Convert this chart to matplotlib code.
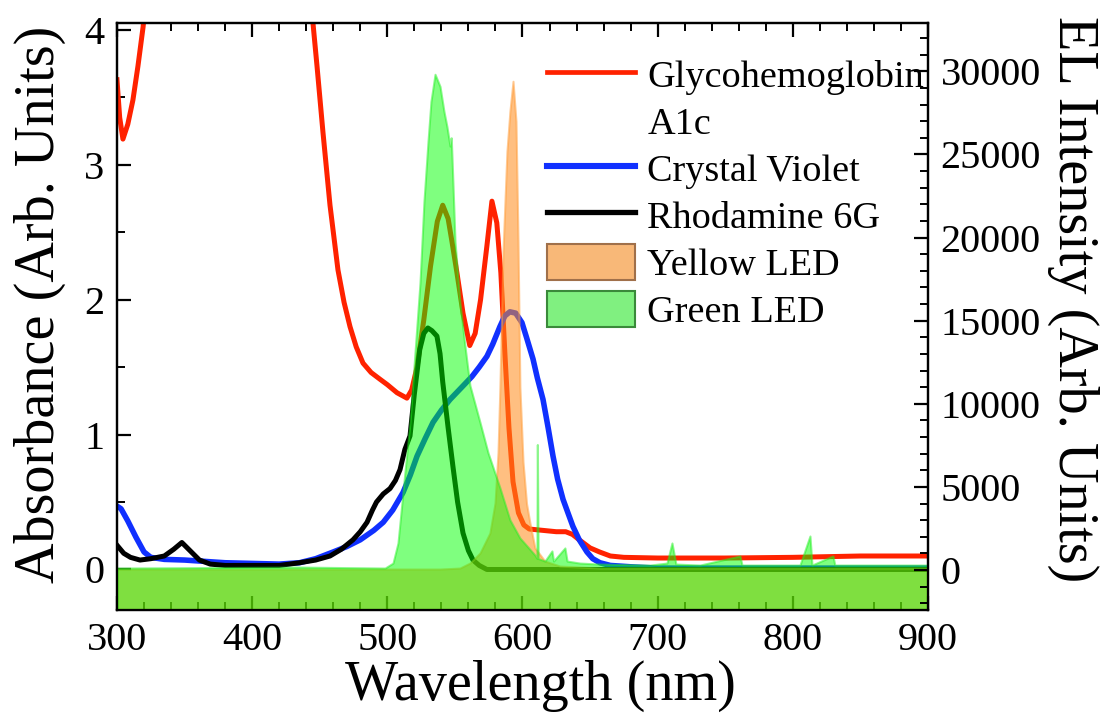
import matplotlib
matplotlib.use('Agg')
import matplotlib.pyplot as plt
from matplotlib.lines import Line2D
from matplotlib.patches import Patch
from matplotlib.ticker import MultipleLocator

plt.rcParams['font.family'] = ['Liberation Serif', 'DejaVu Serif']

# ---------------- data ----------------
glyco_wl = [300, 302, 304.4, 308, 311.8, 315.5, 319.3, 322, 442, 445, 448, 452.4, 457.6,
            463.5, 468, 472.4, 477, 482, 488, 494.6, 500, 507.2, 514.5, 518, 522, 527,
            532, 537, 541, 545, 548, 551.5, 556, 561, 565, 569, 573.7, 577.4, 581, 584,
            587, 590, 593, 597, 601, 605, 615, 625, 632, 637, 642, 650, 657, 665, 675,
            700, 750, 800, 850, 900]
glyco_abs = [3.63, 3.35, 3.19, 3.3, 3.48, 3.73, 4.02, 4.3, 4.3, 4.05, 3.73, 3.24, 2.7,
             2.22, 1.98, 1.8, 1.65, 1.53, 1.46, 1.41, 1.37, 1.31, 1.27, 1.33, 1.5, 1.85,
             2.25, 2.58, 2.7, 2.6, 2.42, 2.2, 1.9, 1.66, 1.75, 2.0, 2.4, 2.73, 2.57, 2.2,
             1.6, 1.05, 0.65, 0.42, 0.33, 0.3, 0.29, 0.28, 0.28, 0.26, 0.22, 0.16, 0.13,
             0.1, 0.09, 0.085, 0.085, 0.09, 0.1, 0.1]

cv_wl = [300, 303, 308, 314, 320, 325, 335, 350, 380, 420, 435, 447, 460, 470, 480, 490,
         497, 504, 511.6, 517, 522, 528, 533.8, 540, 546.4, 555, 562.6, 568, 573.7, 578,
         583.3, 587, 590.7, 595, 599.6, 603, 607.8, 611, 615.2, 619, 622.6, 626, 630, 634,
         637.3, 642, 647.7, 652, 657.3, 665, 680, 700, 900]
cv_abs = [0.47, 0.45, 0.36, 0.24, 0.13, 0.09, 0.075, 0.07, 0.05, 0.04, 0.05, 0.08, 0.13,
          0.17, 0.22, 0.29, 0.35, 0.44, 0.57, 0.7, 0.84, 0.97, 1.09, 1.18, 1.26, 1.35,
          1.43, 1.5, 1.58, 1.67, 1.8, 1.88, 1.91, 1.9, 1.83, 1.72, 1.56, 1.42, 1.26, 1.05,
          0.84, 0.67, 0.52, 0.41, 0.32, 0.22, 0.13, 0.08, 0.05, 0.03, 0.02, 0.01, 0.01]

r6g_wl = [300, 305, 310, 317, 325, 335, 342, 348, 354, 361, 369, 380, 420, 435, 447,
          457.6, 466, 474.6, 480, 485, 489, 492, 497, 502, 506, 509.4, 513, 516.8, 520,
          524, 527, 530, 533, 536.7, 539, 541, 545, 548.6, 552, 556, 560, 563.4, 568,
          573.7, 600, 700, 900]
r6g_abs = [0.18, 0.12, 0.09, 0.07, 0.08, 0.1, 0.15, 0.2, 0.14, 0.07, 0.04, 0.03, 0.03,
           0.05, 0.07, 0.1, 0.15, 0.22, 0.28, 0.35, 0.44, 0.5, 0.56, 0.6, 0.66, 0.74,
           0.89, 0.99, 1.3, 1.63, 1.75, 1.79, 1.77, 1.73, 1.6, 1.39, 1.05, 0.76, 0.5,
           0.27, 0.14, 0.07, 0.03, 0.0, 0.0, 0.0, 0.0]

green_wl = [300, 435, 498.3, 504.2, 507.9, 510.1, 513.0, 516.8, 520.5, 524.2, 527.1, 530.1,
            532.3, 535.3, 539.0, 541.9, 544.1, 546.4, 547.3, 548.0, 550.1, 552.3, 553.7,
            557.4, 561.1, 568.6, 574.5, 583.3, 590.7, 598.1, 603.3, 609.2, 610.7, 611.0,
            611.6, 616.6, 621.8, 623.0, 631.4, 633.0, 642.5, 657.3, 694.3, 706.9, 710.6,
            713.5, 731.3, 760.9, 762.4, 805.3, 812.7, 814.2, 829.7, 831.1, 900]
green_el = [120, 180, 120, 420, 1630, 3440, 5850, 8870, 13100, 17300, 22150, 25770, 28190,
            29820, 29090, 27590, 26680, 25500, 26000, 24500, 19740, 17500, 16120, 13500,
            11110, 8870, 7060, 4950, 3020, 1930, 1450, 900, 700, 7550, 700, 540, 1150, 540,
            1330, 540, 420, 360, 300, 420, 1630, 360, 300, 850, 300, 300, 2050, 300, 850,
            300, 300]

yellow_wl = [300, 538.9, 553.7, 561.1, 568.6, 575.9, 579.7, 581.9, 583.3, 585.6, 588.5,
             590.7, 593.0, 595.2, 596.7, 598.1, 600.4, 603, 605.5, 609.2, 616.6, 627.7,
             657.3, 900]
yellow_el = [60, 60, 120, 420, 1030, 2230, 4040, 7060, 11000, 19130, 25170, 27590, 29400,
             26980, 19740, 11000, 6500, 4000, 2840, 1330, 540, 240, 120, 120]

x_ticks = [300, 400, 500, 600, 700, 800, 900]
abs_ticks = [0, 1, 2, 3, 4]
el_ticks = [0, 5000, 10000, 15000, 20000, 25000, 30000]

# ---------------- figure ----------------
fig = plt.figure(figsize=(11.12, 7.21), dpi=100)
ax = fig.add_axes([0.1052, 0.154, 0.7293, 0.814])
ax2 = ax.twinx()

ax.plot(glyco_wl, glyco_abs, color='#ff2200', lw=3.6, label='Glycohemoglobin')
ax.plot(cv_wl, cv_abs, color='#1030ff', lw=4.0, label='Crystal Violet')
ax.plot(r6g_wl, r6g_abs, color='black', lw=3.6, label='Rhodamine 6G')

ax.set_xlim(300, 900)
ax.set_ylim(-0.3, 4.05)
ax2.set_ylim(-2400, 32900)
base = ax2.get_ylim()[0]

ax2.fill_between(yellow_wl, yellow_el, base, facecolor='#ff8c1a', alpha=0.55,
                 edgecolor='#ffa040', lw=1.5)
ax2.fill_between(green_wl, green_el, base, facecolor='#00ff00', alpha=0.5,
                 edgecolor='#22ee22', lw=1.5)

lab_fs = 40.5
tick_fs = 29
for a in (ax, ax2):
    for s in a.spines.values():
        s.set_linewidth(1.6)

ax.set_xticks(x_ticks)
ax.set_yticks(abs_ticks)
ax2.set_yticks(el_ticks)
ax.xaxis.set_minor_locator(MultipleLocator(20))
ax.yaxis.set_minor_locator(MultipleLocator(0.5))
ax2.yaxis.set_minor_locator(MultipleLocator(1000))

ax.tick_params(axis='x', which='both', direction='in', top=True, labelsize=tick_fs, pad=9)
ax.tick_params(axis='y', which='both', direction='in', right=False, labelsize=tick_fs, pad=9)
ax2.tick_params(axis='y', which='both', direction='in', labelsize=tick_fs, pad=9)
for a in (ax, ax2):
    a.tick_params(which='major', length=10, width=1.6)
    a.tick_params(which='minor', length=5.5, width=1.4)

ax.set_xlabel('Wavelength (nm)', fontsize=lab_fs, labelpad=0)
ax.xaxis.label.set_x(0.522)
ax.set_ylabel('Absorbance (Arb. Units)', fontsize=lab_fs, labelpad=13)
ax.yaxis.label.set_y(0.52)
ax2.set_ylabel('EL Intensity (Arb. Units)', fontsize=lab_fs, rotation=270, labelpad=42)
ax2.yaxis.label.set_y(0.53)

handles = [Line2D([], [], color='#ff2200', lw=3.4),
           Line2D([], [], color='none'),
           Line2D([], [], color='#1030ff', lw=4.4),
           Line2D([], [], color='black', lw=3.8),
           Patch(facecolor='#f8b878', edgecolor='#a0704a', lw=1.5),
           Patch(facecolor='#80f080', edgecolor='#3a8a3a', lw=1.5)]
labels = ['Glycohemoglobin', 'A1c', 'Crystal Violet', 'Rhodamine 6G', 'Yellow LED', 'Green LED']
ax2.legend(handles, labels, loc='upper left', bbox_to_anchor=(0.53, 0.944), frameon=False,
           fontsize=27.5, handlelength=2.3, handleheight=1.1, handletextpad=0.33,
           labelspacing=0.2, borderaxespad=0.0, borderpad=0.0)

fig.savefig('out.png', dpi=100)
